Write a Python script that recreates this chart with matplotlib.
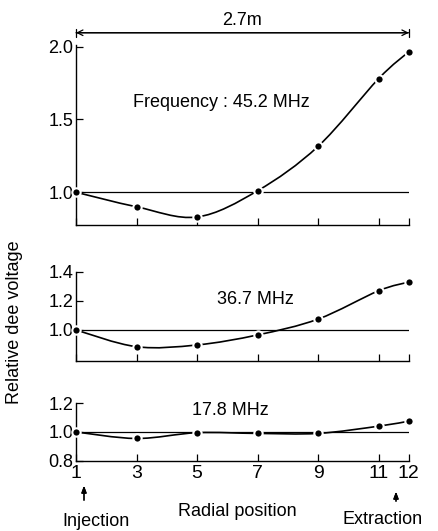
import matplotlib.pyplot as plt
import numpy as np
from matplotlib.path import Path
from matplotlib.patches import PathPatch

# radial positions where the dee voltage was measured
positions = [1, 3, 5, 7, 9, 11, 12]
tick_labels = ['1', '3', '5', '7', '9', '11', '12']

# relative dee voltage for each frequency
volt_452 = [1.0, 0.90, 0.83, 1.01, 1.315, 1.78, 1.965]
volt_367 = [1.0, 0.885, 0.897, 0.966, 1.075, 1.27, 1.33]
volt_178 = [1.0, 0.955, 0.995, 0.99, 0.99, 1.04, 1.075]

labels = ['Frequency : 45.2 MHz', '36.7 MHz', '17.8 MHz']

plt.rcParams['font.family'] = ['Liberation Sans', 'DejaVu Sans']


def smooth_path(x, y):
    '''Catmull-Rom curve through the points, as cubic bezier segments'''
    x = np.asarray(x, float)
    y = np.asarray(y, float)
    verts = [(x[0], y[0])]
    codes = [Path.MOVETO]
    n = len(x)
    for i in range(n - 1):
        i0 = max(i - 1, 0)
        i3 = min(i + 2, n - 1)
        d1 = (x[i + 1] - x[i0]) / 6.0, (y[i + 1] - y[i0]) / 6.0
        d2 = (x[i3] - x[i]) / 6.0, (y[i3] - y[i]) / 6.0
        verts += [(x[i] + d1[0], y[i] + d1[1]),
                  (x[i + 1] - d2[0], y[i + 1] - d2[1]),
                  (x[i + 1], y[i + 1])]
        codes += [Path.CURVE4] * 3
    return Path(verts, codes)


fig = plt.figure(figsize=(4.38, 5.31), dpi=100)

# [left, bottom, width, height] per panel, plus the y range and ticks
panels = [
    ([0.1735, 0.576, 0.760, 0.339], (0.774, 2.01), [1.0, 1.5, 2.0], volt_452),
    ([0.1735, 0.320, 0.760, 0.168], (0.786, 1.40), [1.0, 1.2, 1.4], volt_367),
    ([0.1735, 0.132, 0.760, 0.109], (0.80, 1.20), [0.8, 1.0, 1.2], volt_178),
]
label_pos = [(2.88, 1.616), (5.66, 1.21), (4.83, 1.145)]

axes = []
for (rect, ylim, yticks, volts), lab, lp in zip(panels, labels, label_pos):
    ax = fig.add_axes(rect)
    ax.set_xlim(1, 12)
    ax.set_ylim(*ylim)
    ax.spines['top'].set_visible(False)
    ax.spines['right'].set_visible(False)
    ax.spines['left'].set_linewidth(1.0)
    ax.spines['bottom'].set_linewidth(1.0)
    ax.set_xticks(positions)
    ax.set_yticks(yticks, labels=['%.1f' % t for t in yticks])
    ax.tick_params(direction='in', length=5, width=0.9, labelsize=13, pad=2)
    ax.tick_params(axis='x', labelbottom=False)

    # reference level 1.0
    ax.plot([1, 12], [1.0, 1.0], color='black', lw=0.9)
    ax.add_patch(PathPatch(smooth_path(positions, volts), fill=False,
                           edgecolor='black', lw=1.2))
    ax.plot(positions, volts, 'o', color='black', markersize=6,
            markeredgecolor='white', markeredgewidth=1.5, clip_on=False, zorder=3)
    ax.text(lp[0], lp[1], lab, fontsize=13, ha='left', va='center')
    axes.append(ax)

# bottom panel carries the x tick labels
axes[2].tick_params(axis='x', labelbottom=True, labelsize=14, pad=3)
axes[2].set_xticks(positions, labels=tick_labels)

# 2.7m dimension line above the top panel
top = axes[0]
top.annotate('', xy=(1, 2.095), xytext=(12, 2.095), xycoords='data',
             arrowprops=dict(arrowstyle='<->', lw=0.9, color='black',
                             shrinkA=0, shrinkB=0), annotation_clip=False)
top.annotate('', xy=(1, 2.095), xytext=(12, 2.095), xycoords='data',
             arrowprops=dict(arrowstyle='|-|,widthA=0.3,widthB=0.3', lw=0.9,
                             color='black', shrinkA=0, shrinkB=0),
             annotation_clip=False)
top.text(6.5, 2.18, '2.7m', fontsize=13, ha='center', va='center', clip_on=False)

fig.text(15 / 438, 1 - 322 / 531, 'Relative dee voltage', rotation=90,
         fontsize=13, ha='center', va='center')
fig.text(237 / 438, 1 - 511 / 531, 'Radial position', fontsize=13,
         ha='center', va='center')

# injection / extraction markers
fig.text(96 / 438, 1 - 521 / 531, 'Injection', fontsize=13, ha='center', va='center')
fig.text(383 / 438, 1 - 519 / 531, 'Extraction', fontsize=13, ha='center', va='center')
fig.add_artist(plt.annotate('', xy=(84 / 438, 1 - 483 / 531),
                            xytext=(84 / 438, 1 - 503 / 531),
                            xycoords='figure fraction',
                            arrowprops=dict(arrowstyle='-|>,head_length=0.4,head_width=0.15',
                                            lw=0.9, color='black')))
fig.add_artist(plt.annotate('', xy=(396 / 438, 1 - 489 / 531),
                            xytext=(396 / 438, 1 - 504 / 531),
                            xycoords='figure fraction',
                            arrowprops=dict(arrowstyle='-|>,head_length=0.4,head_width=0.15',
                                            lw=0.9, color='black')))

fig.savefig('out.png', dpi=100)
